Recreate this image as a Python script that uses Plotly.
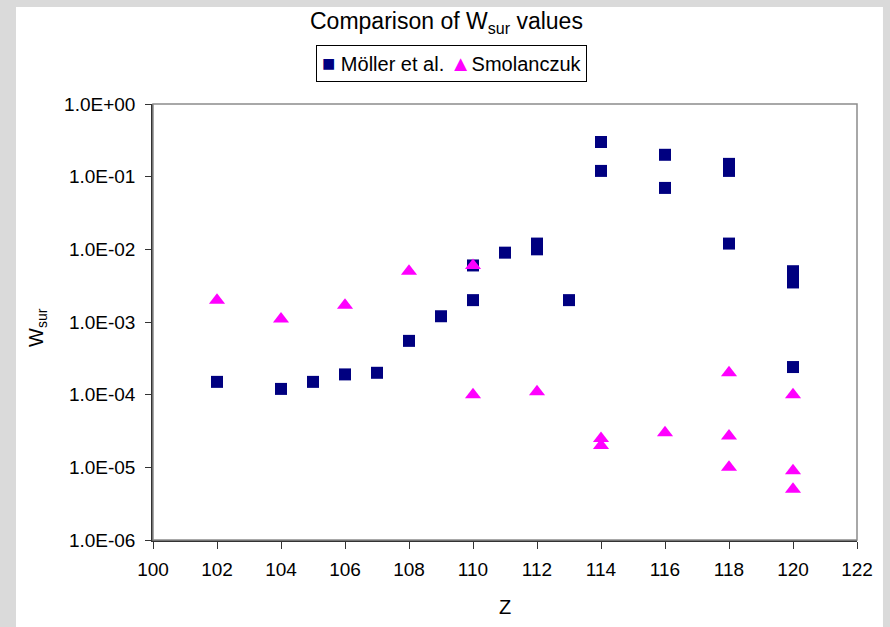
import plotly.graph_objects as go

# Survival probability W_sur versus proton number Z
moller_z = [102, 104, 105, 106, 107, 108, 109, 110, 110, 111, 112, 112, 113,
            114, 114, 116, 116, 118, 118, 118, 120, 120, 120]
moller_w = [1.5e-4, 1.2e-4, 1.5e-4, 1.9e-4, 2.0e-4, 5.5e-4, 1.2e-3, 2.0e-3, 6.0e-3,
            9.0e-3, 1.2e-2, 1.0e-2, 2.0e-3, 3.0e-1, 1.2e-1, 2.0e-1, 7.0e-2,
            1.5e-1, 1.2e-1, 1.2e-2, 5.0e-3, 3.5e-3, 2.4e-4]

smol_z = [102, 104, 106, 108, 110, 110, 112, 114, 114, 116, 118, 118, 118, 120, 120, 120]
smol_w = [2.0e-3, 1.1e-3, 1.7e-3, 5.0e-3, 6.0e-3, 1.0e-4, 1.1e-4, 2.5e-5, 2.0e-5,
          3.0e-5, 2.0e-4, 2.7e-5, 1.0e-5, 1.0e-4, 9.0e-6, 5.0e-6]

y_tickvals = [1e-6, 1e-5, 1e-4, 1e-3, 1e-2, 1e-1, 1e0]
y_ticktext = ["1.0E-06", "1.0E-05", "1.0E-04", "1.0E-03", "1.0E-02", "1.0E-01", "1.0E+00"]
x_tickvals = list(range(100, 123, 2))

MOLLER_COLOR = "#000080"
SMOL_COLOR = "#ff00ff"
FONT = "Liberation Sans, Arial, sans-serif"

fig = go.Figure()
fig.add_trace(go.Scatter(
    x=moller_z, y=moller_w, mode="markers", name="Möller et al.",
    marker=dict(symbol="square", size=12, color=MOLLER_COLOR, line=dict(width=0)),
    showlegend=False,
))
fig.add_trace(go.Scatter(
    x=smol_z, y=smol_w, mode="markers", name="Smolanczuk",
    marker=dict(symbol="triangle-up", size=14, color=SMOL_COLOR, line=dict(width=0)),
    showlegend=False,
))

# compact boxed key above the plot
legend_text = (
    f"<span style='color:{MOLLER_COLOR};font-size:22px'>■</span> Möller et al. "
    f"<span style='color:{SMOL_COLOR};font-size:22px'>▲</span>Smolanczuk"
)

fig.update_layout(
    width=890, height=627,
    margin=dict(l=153, r=33, t=104, b=87),
    paper_bgcolor="#dadada",
    plot_bgcolor="white",
    font=dict(family=FONT, size=19, color="black"),
    showlegend=False,
    shapes=[
        # white chart area on the grey slide background
        dict(type="rect", xref="paper", yref="paper", x0=-0.1946, x1=1.0369,
             y0=-0.1995, y1=1.2225, fillcolor="white", line=dict(width=0), layer="below"),
        # plot-area frame
        dict(type="rect", xref="paper", yref="paper", x0=0, x1=1, y0=0, y1=1,
             line=dict(color="#8c8c8c", width=1.5), layer="above"),
    ],
    annotations=[
        dict(text="Comparison of W<sub>sur</sub> values", xref="paper", yref="paper",
             x=0.4169, y=1.188, xanchor="center", yanchor="middle",
             showarrow=False, font=dict(size=23)),
        dict(text=legend_text, xref="paper", yref="paper",
             x=0.4233, y=1.094, xanchor="center", yanchor="middle",
             showarrow=False, font=dict(size=20),
             bordercolor="black", borderwidth=1, borderpad=5, bgcolor="white"),
        dict(text="Z", xref="paper", yref="paper", x=0.5, y=-0.1537,
             xanchor="center", yanchor="middle", showarrow=False, font=dict(size=20)),
        dict(text="W<sub>sur</sub>", xref="paper", yref="paper", x=-0.1648, y=0.4885,
             xanchor="center", yanchor="middle",
             showarrow=False, textangle=-90, font=dict(size=20)),
    ],
)

fig.update_xaxes(
    range=[100, 122], tickvals=x_tickvals, showgrid=False, zeroline=False,
    showline=True, linecolor="#333333", linewidth=1.5,
    ticks="outside", ticklen=7, tickcolor="#333333", tickwidth=1,
    ticklabelstandoff=4,
)
fig.update_yaxes(
    type="log", range=[-6, 0], tickvals=y_tickvals, ticktext=y_ticktext,
    showgrid=False, zeroline=False,
    showline=True, linecolor="#333333", linewidth=1.5,
    ticks="outside", ticklen=6, tickcolor="#333333", tickwidth=1,
    ticklabelstandoff=6,
)

fig.write_html("out.html")
